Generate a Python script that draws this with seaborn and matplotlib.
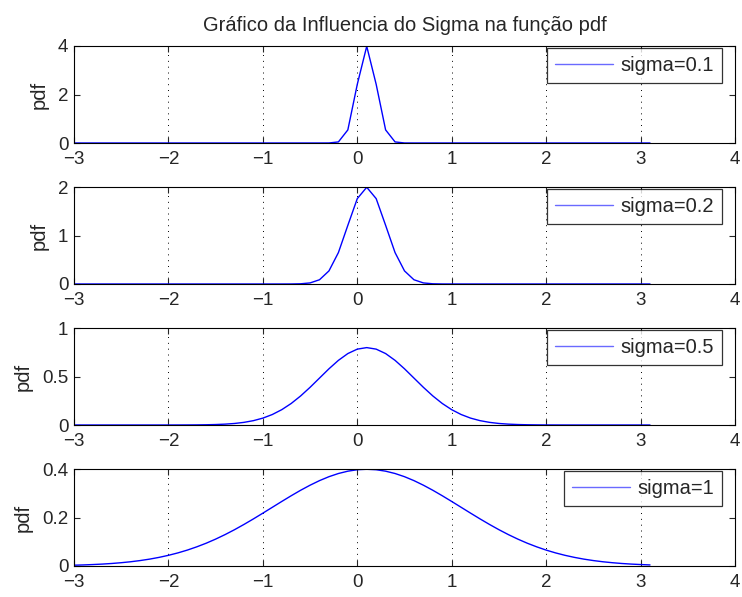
import matplotlib
matplotlib.use("Agg")
import matplotlib.pyplot as plt
import seaborn as sns
import pandas as pd

x_vals = [-3.0, -2.9, -2.8, -2.7, -2.6, -2.5, -2.4, -2.3, -2.2, -2.1,
          -2.0, -1.9, -1.8, -1.7, -1.6, -1.5, -1.4, -1.3, -1.2, -1.1,
          -1.0, -0.9, -0.8, -0.7, -0.6, -0.5, -0.4, -0.3, -0.2, -0.1,
          0.0, 0.1, 0.2, 0.3, 0.4, 0.5, 0.6, 0.7, 0.8, 0.9,
          1.0, 1.1, 1.2, 1.3, 1.4, 1.5, 1.6, 1.7, 1.8, 1.9,
          2.0, 2.1, 2.2, 2.3, 2.4, 2.5, 2.6, 2.7, 2.8, 2.9,
          3.0, 3.1]

pdf_s01 = [0, 0, 0, 0, 0, 0, 0, 0, 0, 0,
           0, 0, 0, 0, 0, 0, 0, 0, 0, 0,
           0, 0, 0, 0, 0, 0, 0.0001, 0.0013, 0.0443, 0.5399,
           2.4197, 3.9894, 2.4197, 0.5399, 0.0443, 0.0013, 0.0001, 0, 0, 0,
           0, 0, 0, 0, 0, 0, 0, 0, 0, 0,
           0, 0, 0, 0, 0, 0, 0, 0, 0, 0,
           0, 0]

pdf_s02 = [0, 0, 0, 0, 0, 0, 0, 0, 0, 0,
           0, 0, 0, 0, 0, 0, 0, 0, 0, 0,
           0, 0, 0.0001, 0.0007, 0.0044, 0.0222, 0.0876, 0.2700, 0.6476, 1.2099,
           1.7603, 1.9947, 1.7603, 1.2099, 0.6476, 0.2700, 0.0876, 0.0222, 0.0044, 0.0007,
           0.0001, 0, 0, 0, 0, 0, 0, 0, 0, 0,
           0, 0, 0, 0, 0, 0, 0, 0, 0, 0,
           0, 0]

pdf_s05 = [0, 0, 0, 0, 0, 0, 0, 0, 0, 0,
           0.0001, 0.0003, 0.0006, 0.0012, 0.0025, 0.0048, 0.0089, 0.0158, 0.0272, 0.0448,
           0.0709, 0.1080, 0.1579, 0.2218, 0.2995, 0.3884, 0.4839, 0.5794, 0.6664, 0.7365,
           0.7821, 0.7979, 0.7821, 0.7365, 0.6664, 0.5794, 0.4839, 0.3884, 0.2995, 0.2218,
           0.1579, 0.1080, 0.0709, 0.0448, 0.0272, 0.0158, 0.0089, 0.0048, 0.0025, 0.0012,
           0.0006, 0.0003, 0.0001, 0, 0, 0, 0, 0, 0, 0,
           0, 0]

pdf_s1 = [0.0033, 0.0044, 0.0060, 0.0079, 0.0104, 0.0136, 0.0175, 0.0224, 0.0283, 0.0355,
          0.0440, 0.0540, 0.0656, 0.0790, 0.0940, 0.1109, 0.1295, 0.1497, 0.1714, 0.1942,
          0.2179, 0.2420, 0.2661, 0.2897, 0.3123, 0.3332, 0.3521, 0.3683, 0.3814, 0.3910,
          0.3970, 0.3989, 0.3970, 0.3910, 0.3814, 0.3683, 0.3521, 0.3332, 0.3123, 0.2897,
          0.2661, 0.2420, 0.2179, 0.1942, 0.1714, 0.1497, 0.1295, 0.1109, 0.0940, 0.0790,
          0.0656, 0.0540, 0.0440, 0.0355, 0.0283, 0.0224, 0.0175, 0.0136, 0.0104, 0.0079,
          0.0060, 0.0044]

series = [("sigma=0.1", pdf_s01, [0, 2, 4]),
          ("sigma=0.2", pdf_s02, [0, 1, 2]),
          ("sigma=0.5", pdf_s05, [0, 0.5, 1]),
          ("sigma=1", pdf_s1, [0, 0.2, 0.4])]
x_ticks = [-3, -2, -1, 0, 1, 2, 3, 4]
title = "Gráfico da Influencia do Sigma na função pdf"

sns.set_style("white")
plt.rcParams["font.family"] = ["Liberation Sans", "DejaVu Sans"]
plt.rcParams["axes.unicode_minus"] = True

W, H = 742, 597
fig = plt.figure(figsize=(W / 100, H / 100), dpi=100)

tops = [46, 187, 328, 469]
ax_h = 97
left, right = 74, 735
ax_w = right - left

for (label, yv, yt), top in zip(series, tops):
    ax = fig.add_axes([left / W, 1 - (top + ax_h) / H, ax_w / W, ax_h / H])
    df = pd.DataFrame({"x": x_vals, "pdf": yv})
    sns.lineplot(data=df, x="x", y="pdf", ax=ax, color="#0000ff", lw=1.0,
                 label=label, sort=False, estimator=None)
    ax.set_xlim(-3, 4)
    ax.set_ylim(yt[0], yt[-1])
    ax.set_xticks(x_ticks)
    ax.set_yticks(yt)
    ax.set_yticklabels([("%g" % v) for v in yt])
    ax.set_xlabel("")
    ax.set_ylabel("pdf", fontsize=14.5, labelpad=7)
    ax.grid(False)
    for xv in x_ticks[1:-1]:
        ax.axvline(xv, color="black", lw=0.7, ls=(0, (1, 5)), zorder=0)
    ax.tick_params(direction="in", length=4, width=0.8, labelsize=13.5,
                   top=True, right=True, bottom=True, left=True)
    ax.tick_params(axis="x", pad=6)
    ax.tick_params(axis="y", pad=4)
    for sp in ax.spines.values():
        sp.set_visible(True)
        sp.set_color("black")
        sp.set_linewidth(0.8)
    leg = ax.legend(loc="upper right", fontsize=14.5, frameon=True, fancybox=False,
                    bbox_to_anchor=(1 - 13 / ax_w, 1 - 2 / ax_h), borderaxespad=0,
                    handlelength=2.9, borderpad=0.4, handletextpad=0.35)
    leg.get_frame().set_edgecolor("black")
    leg.get_frame().set_linewidth(0.9)
    for h in leg.get_lines():
        h.set_color("#6a6aff")
    if top == tops[0]:
        ax.set_title(title, fontsize=14.5, pad=11)

fig.savefig("out.png", dpi=100)
